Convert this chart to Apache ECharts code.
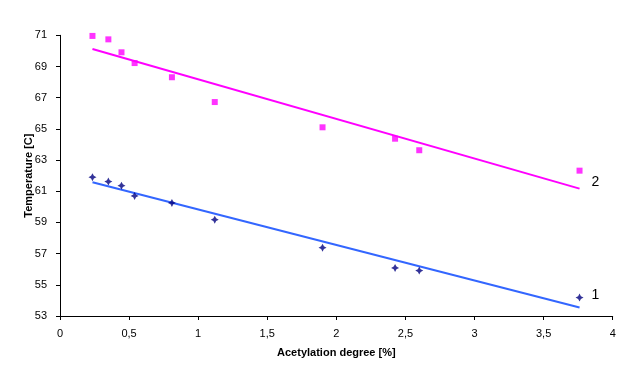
<!DOCTYPE html>
<html>
<head>
<meta charset="utf-8">
<script src="https://cdn.jsdelivr.net/npm/echarts@6/dist/echarts.min.js"></script>
<style>html,body{margin:0;padding:0;background:#fff}#c{width:626px;height:373px}</style>
</head>
<body>
<div id="c"></div>
<script>
var acetylation = [0.235, 0.35, 0.445, 0.54, 0.81, 1.12, 1.9, 2.425, 2.6, 3.76];
var temp1 = [61.9, 61.62, 61.36, 60.7, 60.25, 59.18, 57.38, 56.08, 55.91, 54.18];
var temp2 = [70.96, 70.74, 69.91, 69.22, 68.31, 66.72, 65.1, 64.37, 63.63, 62.32];
var trendX = [0.235, 3.76];
var trend1 = [61.58, 53.54];
var trend2 = [70.12, 61.17];
var xTicks = ['0', '0,5', '1', '1,5', '2', '2,5', '3', '3,5', '4'];
var seriesNames = ['1', '2'];

function pairs(xs, ys) { return xs.map(function (x, i) { return [x, ys[i]]; }); }

var font = 'Liberation Sans, Arial, sans-serif';
var chart = echarts.init(document.getElementById('c'), null, {renderer: 'canvas'});

chart.setOption({
  animation: false,
  backgroundColor: '#fff',
  grid: {left: 60, right: 13.3, top: 35.3, bottom: 57, containLabel: false},
  xAxis: {
    type: 'value', min: 0, max: 4, interval: 0.5,
    name: 'Acetylation degree [%]', nameLocation: 'middle', nameGap: 31,
    nameMoveOverlap: false,
    nameTextStyle: {fontFamily: font, fontSize: 11, fontWeight: 'bold', color: '#000'},
    axisLine: {lineStyle: {color: '#000', width: 1}},
    axisTick: {show: true, length: 4, lineStyle: {color: '#000'}},
    axisLabel: {margin: 12, fontFamily: font, fontSize: 11, color: '#000',
      formatter: function (v) { return xTicks[Math.round(v * 2)]; }},
    splitLine: {show: false}
  },
  yAxis: {
    type: 'value', min: 53, max: 71, interval: 2,
    name: 'Temperature [C]', nameLocation: 'middle', nameGap: 26,
    nameMoveOverlap: false,
    nameTextStyle: {fontFamily: font, fontSize: 11, fontWeight: 'bold', color: '#000'},
    axisLine: {show: true, lineStyle: {color: '#000', width: 1}},
    axisTick: {show: true, length: 4, lineStyle: {color: '#000'}},
    axisLabel: {margin: 13, fontFamily: font, fontSize: 11, color: '#000'},
    splitLine: {show: false}
  },
  series: [
    {type: 'line', name: 'trend1', data: pairs(trendX, trend1), symbol: 'none', showSymbol: false,
      lineStyle: {color: '#3366ff', width: 2}, z: 2,
      endLabel: {show: true, formatter: seriesNames[0], offset: [4, -12], color: '#000', fontFamily: font, fontSize: 14}},
    {type: 'line', name: 'trend2', data: pairs(trendX, trend2), symbol: 'none', showSymbol: false,
      lineStyle: {color: '#ff00ff', width: 2}, z: 2,
      endLabel: {show: true, formatter: seriesNames[1], offset: [4, -6], color: '#000', fontFamily: font, fontSize: 14}},
    {type: 'scatter', name: seriesNames[0], data: pairs(acetylation, temp1),
      symbol: 'path://M0,-1L0.35,-0.35L1,0L0.35,0.35L0,1L-0.35,0.35L-1,0L-0.35,-0.35Z', symbolSize: 8,
      itemStyle: {color: '#000080'}, z: 3},
    {type: 'scatter', name: seriesNames[1], data: pairs(acetylation, temp2),
      symbol: 'rect', symbolSize: 6,
      itemStyle: {color: '#ff00ff'}, z: 3}
  ]
});
</script>
</body>
</html>
